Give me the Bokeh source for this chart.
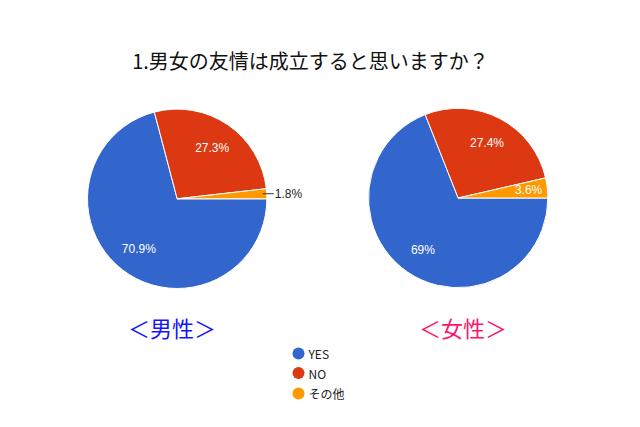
import math
from bokeh.plotting import figure
from bokeh.models import ColumnDataSource, Range1d
from bokeh.core.properties import value
from bokeh.embed import file_html
from bokeh.resources import INLINE

title = "1.男女の友情は成立すると思いますか？"
categories = ["YES", "NO", "その他"]
men_values = [70.9, 27.3, 1.8]
women_values = [69.0, 27.4, 3.6]
men_labels = ["70.9%", "27.3%", "1.8%"]
women_labels = ["69%", "27.4%", "3.6%"]
group_names = ["＜男性＞", "＜女性＞"]

colors = ["#3366cc", "#dc3912", "#ff9900"]
W, H = 624, 411

def py(Y):
    return H - Y

def px(X):
    return X

p = figure(width=W, height=H, output_backend="svg", toolbar_location=None,
           x_range=Range1d(0, W), y_range=Range1d(0, H), min_border=0)
p.axis.visible = False
p.grid.visible = False
p.outline_line_color = None
p.background_fill_color = "white"

R = 89.7
FONT = "Liberation Sans"

def draw_pie(cx, cy, vals, labels, inside_factors, outside):
    total = sum(vals)
    starts, ends = [], []
    cum = 0.0
    for v in vals:
        starts.append(-cum / total * 2 * math.pi)
        cum += v
        ends.append(-cum / total * 2 * math.pi)
    src = ColumnDataSource(dict(start=starts, end=ends, color=colors))
    p.wedge(x=cx, y=cy, radius=R, start_angle="start", end_angle="end",
            direction="clock", fill_color="color", line_color="white",
            line_width=1, source=src)
    lx, ly, lt = [], [], []
    for i, (s, e) in enumerate(zip(starts, ends)):
        mid = (s + e) / 2
        if i in outside:
            ex = cx + R * math.cos(mid)
            ey = cy + R * math.sin(mid)
            p.segment(x0=[ex - 4], y0=[ey], x1=[ex + 7], y1=[ey],
                      line_color="#333333", line_width=1)
            p.text(x=[ex + 8], y=[ey], text=[labels[i]], text_color="#222222",
                   text_font=value(FONT), text_font_size="12px",
                   text_align="left", text_baseline="middle")
            continue
        f = inside_factors[i]
        lx.append(cx + f * R * math.cos(mid))
        ly.append(cy + f * R * math.sin(mid))
        lt.append(labels[i])
    p.text(x=lx, y=ly, text=lt, text_color="white", text_font=value(FONT),
           text_font_size="12px", text_align="center", text_baseline="middle")

draw_pie(px(176.7), py(198.3), men_values, men_labels, [0.7, 0.69, 0.69], [2])
draw_pie(px(457.7), py(197.5), women_values, women_labels, [0.7, 0.69, 0.79], [])

p.text(x=[px(310)], y=[py(60)], text=[title], text_color="#111111",
       text_font=value("Noto Sans CJK JP"), text_font_size="20px",
       text_align="center", text_baseline="middle")

p.text(x=[px(171.5), px(462.5)], y=[py(326), py(326)], text=group_names,
       text_color=["#1414ff", "#ff1470"], text_font=value("Noto Sans CJK JP"),
       text_font_size="22px", text_align="center", text_baseline="middle")

leg_y = [py(353), py(372.5), py(393)]
p.scatter(x=[px(298)] * 3, y=leg_y, size=12, marker="circle",
          fill_color=colors, line_color=None)
p.text(x=[px(308)] * 3, y=leg_y, text=categories, text_color="#222222",
       text_font=value("Noto Sans CJK JP"), text_font_size="12px",
       text_align="left", text_baseline="middle")

open("out.html", "w").write(file_html(p, INLINE))
